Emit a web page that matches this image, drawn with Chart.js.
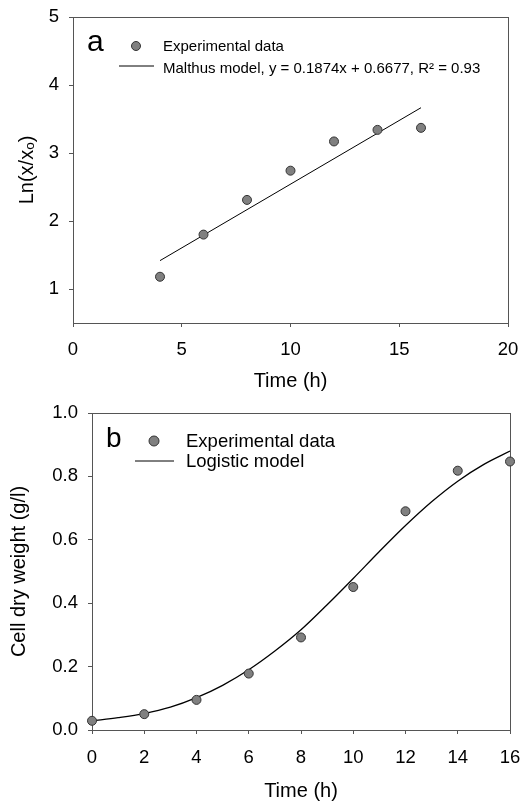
<!DOCTYPE html>
<html>
<head>
<meta charset="utf-8">
<title>Growth kinetics</title>
<script src="https://cdn.jsdelivr.net/npm/chart.js@4.4.1/dist/chart.umd.min.js"></script>
<style>
  body { margin: 0; background: #fff; }
  .panel { position: absolute; left: 0; width: 520px; }
</style>
</head>
<body>
<div class="panel" style="top:0;height:400px"><canvas id="chartA" width="520" height="400"></canvas></div>
<div class="panel" style="top:400px;height:401px"><canvas id="chartB" width="520" height="401"></canvas></div>
<script>
// panel a: ln(x/xo) against time, with the Malthus fit
const timeA = [4, 6, 8, 10, 12, 14, 16];
const lnA = [1.18, 1.80, 2.31, 2.74, 3.17, 3.34, 3.37];
const malthusSlope = 0.1874;
const malthusIntercept = 0.6677;
const malthusR2 = 0.93;
const malthusRange = [4, 16];
const xTicksA = [0, 5, 10, 15, 20];
const yTicksA = [1, 2, 3, 4, 5];

// panel b: cell dry weight with the logistic model
const timeB = [0, 2, 4, 6, 8, 10, 12, 14, 16];
const cdwB = [0.029, 0.050, 0.095, 0.178, 0.292, 0.451, 0.690, 0.818, 0.847];
const logisticTime = [0, 1, 2, 3, 4, 5, 6, 7, 8, 9, 10, 11, 12, 13, 14, 15, 16];
const logisticCdw = [0.029, 0.039, 0.052, 0.072, 0.102, 0.141, 0.190, 0.249, 0.316, 0.395,
                     0.478, 0.563, 0.645, 0.720, 0.785, 0.838, 0.880];
const xTicksB = [0, 2, 4, 6, 8, 10, 12, 14, 16];
const yTicksB = [0, 0.2, 0.4, 0.6, 0.8, 1.0];

const FONT = "'Liberation Sans', Arial, Helvetica, sans-serif";
const axisColor = '#555';
const pointFill = '#808080';
const pointEdge = '#333';

Chart.defaults.font.family = FONT;
Chart.defaults.color = '#000';

const toXY = (xs, ys) => xs.map((x, i) => ({ x: x, y: ys[i] }));

// box around the plot area
const frame = {
  id: 'frame',
  beforeDatasetsDraw(chart) {
    const a = chart.chartArea;
    const ctx = chart.ctx;
    ctx.save();
    ctx.strokeStyle = axisColor;
    ctx.lineWidth = 1;
    ctx.strokeRect(Math.round(a.left) + 0.5, Math.round(a.top) + 0.5,
                   Math.round(a.right - a.left), Math.round(a.bottom - a.top));
    ctx.restore();
  }
};

// panel letter and key drawn inside the plot
const key = {
  id: 'key',
  afterDraw(chart, args, o) {
    const ctx = chart.ctx;
    ctx.save();
    ctx.fillStyle = '#000';
    ctx.textBaseline = 'alphabetic';
    ctx.font = o.letterSize + 'px ' + FONT;
    ctx.fillText(o.letter, o.letterX, o.letterY);

    ctx.font = o.size + 'px ' + FONT;
    ctx.fillText(o.items[0], o.textX, o.row1);
    ctx.fillText(o.items[1], o.textX, o.row2);

    ctx.beginPath();
    ctx.arc(o.dotX, o.dotY, o.dotR, 0, Math.PI * 2);
    ctx.fillStyle = pointFill;
    ctx.fill();
    ctx.strokeStyle = pointEdge;
    ctx.lineWidth = 1;
    ctx.stroke();

    ctx.beginPath();
    ctx.moveTo(o.lineX0, o.lineY);
    ctx.lineTo(o.lineX1, o.lineY);
    ctx.strokeStyle = '#000';
    ctx.stroke();
    ctx.restore();
  }
};

function scale(o) {
  return {
    type: 'linear',
    min: o.min,
    max: o.max,
    afterBuildTicks: s => { s.ticks = o.ticks.map(v => ({ value: v })); },
    afterFit: s => {
      if (o.width) s.width = o.width;
      if (o.height) s.height = o.height;
      // labels may overhang the plot edges; the layout padding already covers them
      s.paddingTop = s.paddingBottom = s.paddingLeft = s.paddingRight = 0;
    },
    grid: { drawOnChartArea: false, drawTicks: true, tickLength: 4, tickColor: axisColor },
    border: { color: axisColor, width: 1 },
    ticks: { padding: o.pad, font: { size: 18.5 }, color: '#000', callback: o.fmt },
    title: { display: true, text: o.title, font: { size: 20, lineHeight: 1 }, color: '#000',
             padding: o.titlePad }
  };
}

const common = {
  responsive: false,
  animation: false,
  devicePixelRatio: 1,
  plugins: { legend: { display: false }, tooltip: { enabled: false } }
};

const pointStyle = {
  pointRadius: 4.5,
  pointBackgroundColor: pointFill,
  pointBorderColor: pointEdge,
  pointBorderWidth: 1,
  showLine: false,
  clip: false
};

new Chart(document.getElementById('chartA'), {
  type: 'scatter',
  data: {
    datasets: [
      Object.assign({ label: 'Experimental data', data: toXY(timeA, lnA) }, pointStyle),
      {
        label: 'Malthus model',
        data: malthusRange.map(x => ({ x: x, y: malthusSlope * x + malthusIntercept })),
        showLine: true,
        pointRadius: 0,
        borderColor: '#000',
        borderWidth: 1
      }
    ]
  },
  options: Object.assign({}, common, {
    layout: { padding: { top: 17, right: 12, left: 0, bottom: 0 } },
    scales: {
      x: scale({ min: 0, max: 20, ticks: xTicksA, height: 77, pad: 12, title: 'Time (h)',
                 titlePad: { bottom: 9 } }),
      y: scale({ min: 0.5, max: 5, ticks: yTicksA, width: 73, pad: 10, title: 'Ln(x/xₒ)',
                 titlePad: { top: 17 } })
    },
    plugins: Object.assign({}, common.plugins, {
      key: {
        letter: 'a', letterSize: 30, letterX: 87, letterY: 51,
        size: 15, textX: 163, row1: 51, row2: 73,
        items: ['Experimental data',
                'Malthus model, y = ' + malthusSlope + 'x + ' + malthusIntercept + ', R² = ' + malthusR2],
        dotX: 136, dotY: 46, dotR: 4.5,
        lineX0: 119, lineX1: 154, lineY: 66
      }
    })
  }),
  plugins: [frame, key]
});

new Chart(document.getElementById('chartB'), {
  type: 'scatter',
  data: {
    datasets: [
      Object.assign({ label: 'Experimental data', data: toXY(timeB, cdwB) }, pointStyle),
      {
        label: 'Logistic model',
        data: toXY(logisticTime, logisticCdw),
        showLine: true,
        cubicInterpolationMode: 'monotone',
        pointRadius: 0,
        borderColor: '#000',
        borderWidth: 1.3
      }
    ]
  },
  options: Object.assign({}, common, {
    layout: { padding: { top: 13, right: 10, left: 0, bottom: 0 } },
    scales: {
      x: scale({ min: 0, max: 16, ticks: xTicksB, height: 71, pad: 13, title: 'Time (h)',
                 titlePad: { bottom: 0 } }),
      y: scale({ min: 0, max: 1, ticks: yTicksB, width: 92, pad: 10, title: 'Cell dry weight (g/l)',
                 titlePad: { top: 9 }, fmt: v => v.toFixed(1) })
    },
    plugins: Object.assign({}, common.plugins, {
      key: {
        letter: 'b', letterSize: 28, letterX: 106, letterY: 47,
        size: 18.5, textX: 186, row1: 47, row2: 67,
        items: ['Experimental data', 'Logistic model'],
        dotX: 154, dotY: 41, dotR: 5,
        lineX0: 135, lineX1: 174, lineY: 61
      }
    })
  }),
  plugins: [frame, key]
});
</script>
</body>
</html>
